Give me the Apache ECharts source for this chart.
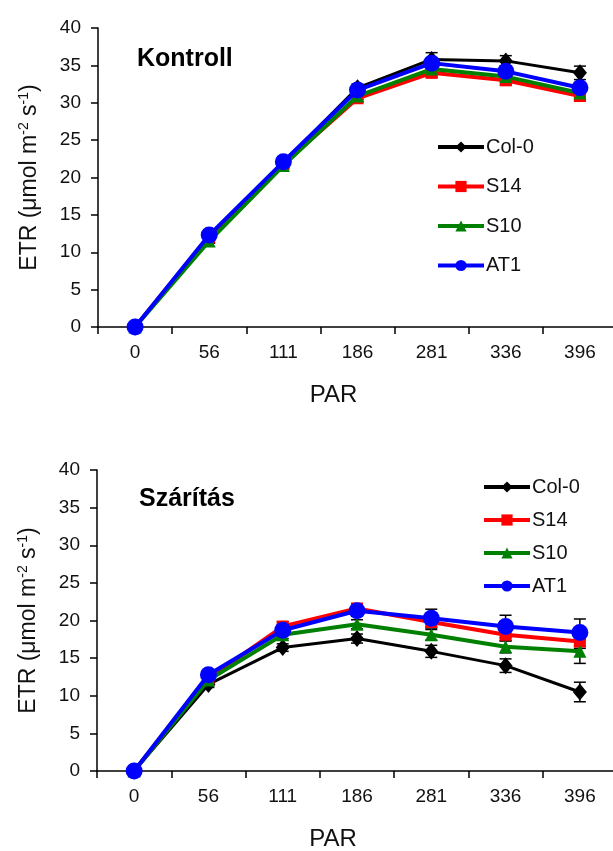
<!DOCTYPE html>
<html>
<head>
<meta charset="utf-8">
<script src="https://cdn.jsdelivr.net/npm/echarts@6/dist/echarts.min.js"></script>
<style>
  html, body { margin: 0; padding: 0; background: #fff; }
  #chart { width: 613px; height: 851px; }
</style>
</head>
<body>
<div id="chart"></div>
<script>
// PAR levels (category axis)
const parLevels = ['0', '56', '111', '186', '281', '336', '396'];
const yTicks = { min: 0, max: 40, interval: 5 };

// Kontroll: ETR values and standard errors
const col0K = [0, 12.0, 22.0, 32.0, 35.8, 35.6, 34.0];
const s14K  = [0, 12.0, 21.8, 30.6, 34.0, 33.0, 30.9];
const s10K  = [0, 11.5, 21.6, 30.9, 34.5, 33.5, 31.3];
const at1K  = [0, 12.3, 22.1, 31.7, 35.3, 34.2, 32.0];
const col0KErr = [0, 0.3, 0.4, 0.5, 0.9, 0.7, 0.9];
const s14KErr  = [0, 0.3, 0.4, 0.5, 0.6, 0.6, 0.7];
const s10KErr  = [0, 0.3, 0.4, 0.5, 0.6, 0.6, 0.6];
const at1KErr  = [0, 0.3, 0.4, 0.5, 0.6, 0.6, 0.6];

// Szárítás: ETR values and standard errors
const col0S = [0, 11.5, 16.4, 17.6, 15.9, 14.0, 10.5];
const s14S  = [0, 12.3, 19.2, 21.6, 19.8, 18.1, 17.2];
const s10S  = [0, 12.1, 18.1, 19.5, 18.1, 16.5, 15.9];
const at1S  = [0, 12.8, 18.7, 21.3, 20.3, 19.2, 18.4];
const col0SErr = [0, 0.4, 0.5, 0.6, 0.8, 0.9, 1.3];
const s14SErr  = [0, 0.4, 0.6, 0.6, 0.8, 0.8, 0.9];
const s10SErr  = [0, 0.4, 0.5, 0.6, 0.7, 0.8, 1.6];
const at1SErr  = [0, 0.4, 0.5, 0.7, 1.2, 1.5, 1.8];

const lines = [
  { name: 'Col-0', color: '#000000', symbol: 'diamond', size: [14, 17], width: 3 },
  { name: 'S14',   color: '#ff0000', symbol: 'rect',    size: 12, width: 4 },
  { name: 'S10',   color: '#008000', symbol: 'triangle', size: 13, width: 4 },
  { name: 'AT1',   color: '#0000ff', symbol: 'circle',  size: 17, width: 4 }
];

const panels = [
  { values: [col0K, s14K, s10K, at1K], errs: [col0KErr, s14KErr, s10KErr, at1KErr] },
  { values: [col0S, s14S, s10S, at1S], errs: [col0SErr, s14SErr, s10SErr, at1SErr] }
];

const FONT = '"Liberation Sans", Arial, sans-serif';
const axisColor = '#000';

function errorBar(params, api) {
  const e = api.value(2);
  if (!e) return null;
  const v = api.value(1);
  const hi = api.coord([api.value(0), v + e]);
  const lo = api.coord([api.value(0), v - e]);
  const half = 6;
  const st = { stroke: '#000', lineWidth: 1.5 };
  return {
    type: 'group',
    children: [
      { type: 'line', shape: { x1: hi[0], y1: hi[1], x2: lo[0], y2: lo[1] }, style: st },
      { type: 'line', shape: { x1: hi[0] - half, y1: hi[1], x2: hi[0] + half, y2: hi[1] }, style: st },
      { type: 'line', shape: { x1: lo[0] - half, y1: lo[1], x2: lo[0] + half, y2: lo[1] }, style: st }
    ]
  };
}

const grids = [
  { left: 98, top: 28, width: 519, height: 299, outerBoundsMode: 'none' },
  { left: 97, top: 470, width: 520, height: 301, outerBoundsMode: 'none' }
];

const xAxes = grids.map((g, i) => ({
  type: 'category',
  gridIndex: i,
  data: parLevels,
  boundaryGap: true,
  axisLine: { lineStyle: { color: axisColor, width: 1.5 } },
  axisTick: { show: true, inside: false, length: 7, lineStyle: { color: axisColor, width: 1.5 } },
  axisLabel: { color: '#111', fontSize: 19, fontFamily: FONT, margin: 16 },
  splitLine: { show: false },
  name: 'PAR',
  nameLocation: 'middle',
  nameGap: 56,
  nameTextStyle: { color: '#111', fontSize: 24, fontFamily: FONT, padding: [0, 48, 0, 0] }
}));

const yAxes = grids.map((g, i) => ({
  type: 'value',
  gridIndex: i,
  min: yTicks.min,
  max: yTicks.max,
  interval: yTicks.interval,
  axisLine: { show: true, lineStyle: { color: axisColor, width: 1.5 } },
  axisTick: { show: true, inside: false, length: 7, lineStyle: { color: axisColor, width: 1.5 } },
  axisLabel: { color: '#111', fontSize: 19, fontFamily: FONT, margin: 17 },
  splitLine: { show: false },
  name: 'ETR (μmol m{sup|-2} s{sup|-1})',
  nameLocation: 'middle',
  nameRotate: 90,
  nameGap: 55,
  nameTextStyle: {
    color: '#111', fontSize: 23, fontFamily: FONT, lineHeight: 26,
    rich: { sup: { fontSize: 14, fontFamily: FONT, color: '#111', verticalAlign: 'top', lineHeight: 26 } }
  }
}));

const series = [];
panels.forEach((p, gi) => {
  lines.forEach((l, si) => {
    series.push({
      type: 'custom',
      name: l.name + ' SE',
      xAxisIndex: gi,
      yAxisIndex: gi,
      renderItem: errorBar,
      encode: { x: 0, y: 1 },
      data: p.values[si].map((v, k) => [k, v, p.errs[si][k]]),
      z: 1,
      silent: true
    });
  });
  lines.forEach((l, si) => {
    series.push({
      type: 'line',
      name: l.name,
      xAxisIndex: gi,
      yAxisIndex: gi,
      data: p.values[si],
      symbol: l.symbol,
      symbolSize: l.size,
      showAllSymbol: true,
      lineStyle: { color: l.color, width: l.width },
      itemStyle: { color: l.color },
      z: 2 + si
    });
  });
});

const legendBase = {
  orient: 'vertical',
  padding: 0,
  itemWidth: 46,
  itemHeight: 14,
  itemGap: 19,
  lineStyle: { width: 4 },
  textStyle: { color: '#111', fontSize: 20, fontFamily: FONT, padding: [0, 0, 0, -3] },
  data: lines.map(l => l.name)
};

const titleStyle = { fontSize: 25, fontWeight: 'bold', color: '#000', fontFamily: FONT };

const option = {
  animation: false,
  backgroundColor: '#fff',
  grid: grids,
  xAxis: xAxes,
  yAxis: yAxes,
  title: [
    { text: 'Kontroll', left: 137, top: 47, padding: 0, textStyle: titleStyle },
    { text: 'Szárítás', left: 139, top: 487, padding: 0, textStyle: titleStyle }
  ],
  legend: [
    Object.assign({}, legendBase, { left: 436, top: 137, itemGap: 19.5 }),
    Object.assign({}, legendBase, { left: 482, top: 477, itemGap: 13 })
  ],
  series: series
};

const chart = echarts.init(document.getElementById('chart'), null, { renderer: 'canvas' });
chart.setOption(option);
</script>
</body>
</html>
